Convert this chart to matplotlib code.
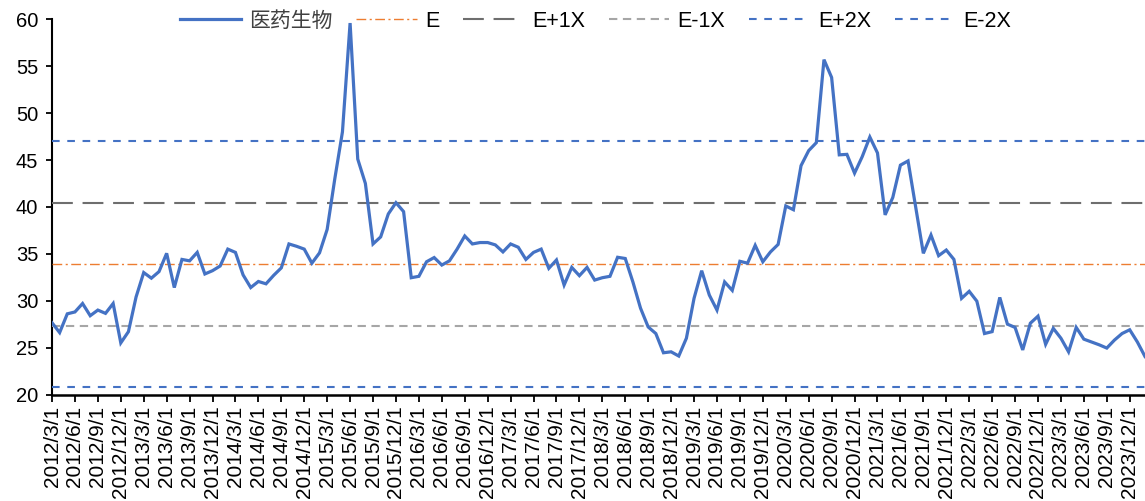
import matplotlib
matplotlib.use("Agg")
import matplotlib.pyplot as plt
import numpy as np
import pandas as pd

plt.rcParams['lines.scale_dashes'] = False

# ---- data ----
dates = pd.date_range('2012-03-01', periods=144, freq='MS')
pe = [27.65, 26.6, 28.6, 28.8, 29.7, 28.4, 29.0, 28.65, 29.7, 25.5,
      26.7, 30.4, 33.0, 32.4, 33.1, 35.05, 31.4, 34.4, 34.25, 35.15,
      32.85, 33.2, 33.7, 35.5, 35.15, 32.75, 31.4, 32.05, 31.8, 32.7,
      33.5, 36.05, 35.8, 35.5, 34.0, 35.1, 37.6, 43.0, 48.0, 59.6,
      45.1, 42.5, 36.05, 36.8, 39.25, 40.45, 39.5, 32.45, 32.6, 34.15,
      34.6, 33.8, 34.25, 35.5, 36.9, 36.05, 36.2, 36.2, 35.95, 35.2,
      36.05, 35.7, 34.4, 35.15, 35.5, 33.45, 34.34, 31.67, 33.55, 32.67,
      33.55, 32.2, 32.45, 32.6, 34.63, 34.5, 32.0, 29.2, 27.2, 26.5,
      24.45, 24.55, 24.1, 26.0, 30.25, 33.2, 30.6, 29.0, 32.0, 31.1,
      34.2, 34.0, 35.9, 34.15, 35.2, 36.0, 40.1, 39.7, 44.4, 46.0,
      46.85, 55.7, 53.8, 45.55, 45.6, 43.6, 45.35, 47.45, 45.75, 39.15,
      41.0, 44.45, 44.9, 40.0, 35.05, 37.0, 34.8, 35.4, 34.4, 30.25,
      31.0, 29.95, 26.5, 26.7, 30.35, 27.5, 27.15, 24.75, 27.6, 28.35,
      25.35, 27.05, 26.0, 24.55, 27.15, 25.9, 25.6, 25.3, 24.95, 25.8,
      26.5, 26.9, 25.6, 24.05]
E = 33.9
X = 6.55
band_labels = ['E', 'E+1X', 'E-1X', 'E+2X', 'E-2X']
band_values = [E, E + X, E - X, E + 2 * X, E - 2 * X]
series_label = '医药生物'
yticks = [20, 25, 30, 35, 40, 45, 50, 55, 60]

tick_idx = list(range(0, len(dates), 3))
tick_labels = [f"{d.year}/{d.month}/1" for d in dates[tick_idx]]

# ---- styles ----
band_styles = [
    dict(color='#ED7D31', lw=1.0, dashes=(7, 2.5, 1.5, 2.5)),
    dict(color='#6E6E6E', lw=1.5, dashes=(15, 7)),
    dict(color='#A6A6A6', lw=1.5, dashes=(6, 4)),
    dict(color='#4472C4', lw=1.5, dashes=(5.5, 5.5)),
    dict(color='#4472C4', lw=1.5, dashes=(5.5, 5.5)),
]

W, H = 1145, 501
fig = plt.figure(figsize=(W / 100, H / 100), dpi=100)
left, right, top, bottom = 52, 1145, 19.3, 394.5
ax = fig.add_axes([left / W, 1 - bottom / H, (right - left) / W, (bottom - top) / H])

x = np.arange(len(dates))
ax.plot(x, pe, color='#4472C4', lw=2.3, label=series_label, zorder=5,
        solid_joinstyle='miter')
for lab, val, st in zip(band_labels, band_values, band_styles):
    ax.plot([x[0], x[-1]], [val, val], label=lab, zorder=3, **st)

ax.set_xlim(0, 143)
ax.set_ylim(20, 60)
ax.set_yticks(yticks)
ax.set_xticks(tick_idx)
ax.set_xticklabels(tick_labels, rotation=90, fontsize=15,
                   fontfamily='Liberation Sans', color='#000000')
for t in ax.get_yticklabels():
    t.set_fontfamily('Liberation Sans')
    t.set_fontsize(14.5)

ax.spines['top'].set_visible(False)
ax.spines['right'].set_visible(False)
ax.spines['left'].set_linewidth(1.5)
ax.spines['bottom'].set_linewidth(1.8)
ax.tick_params(axis='y', direction='out', length=4, width=1.3, pad=6)
ax.tick_params(axis='x', direction='out', length=5, width=1.3, pad=3)

leg = fig.legend(loc='center', bbox_to_anchor=(596 / W, 1 - 21 / H), ncol=6,
                 frameon=False, handlelength=2.8, handletextpad=0.4,
                 columnspacing=1.1,
                 prop={'family': ['Liberation Sans', 'Noto Sans CJK SC'], 'size': 15.5})
for t in leg.get_texts():
    if t.get_text() == series_label:
        t.set_fontfamily('Noto Sans CJK SC')
        t.set_fontsize(15)
        t.set_color('#404040')

fig.savefig('out.png', dpi=100)
